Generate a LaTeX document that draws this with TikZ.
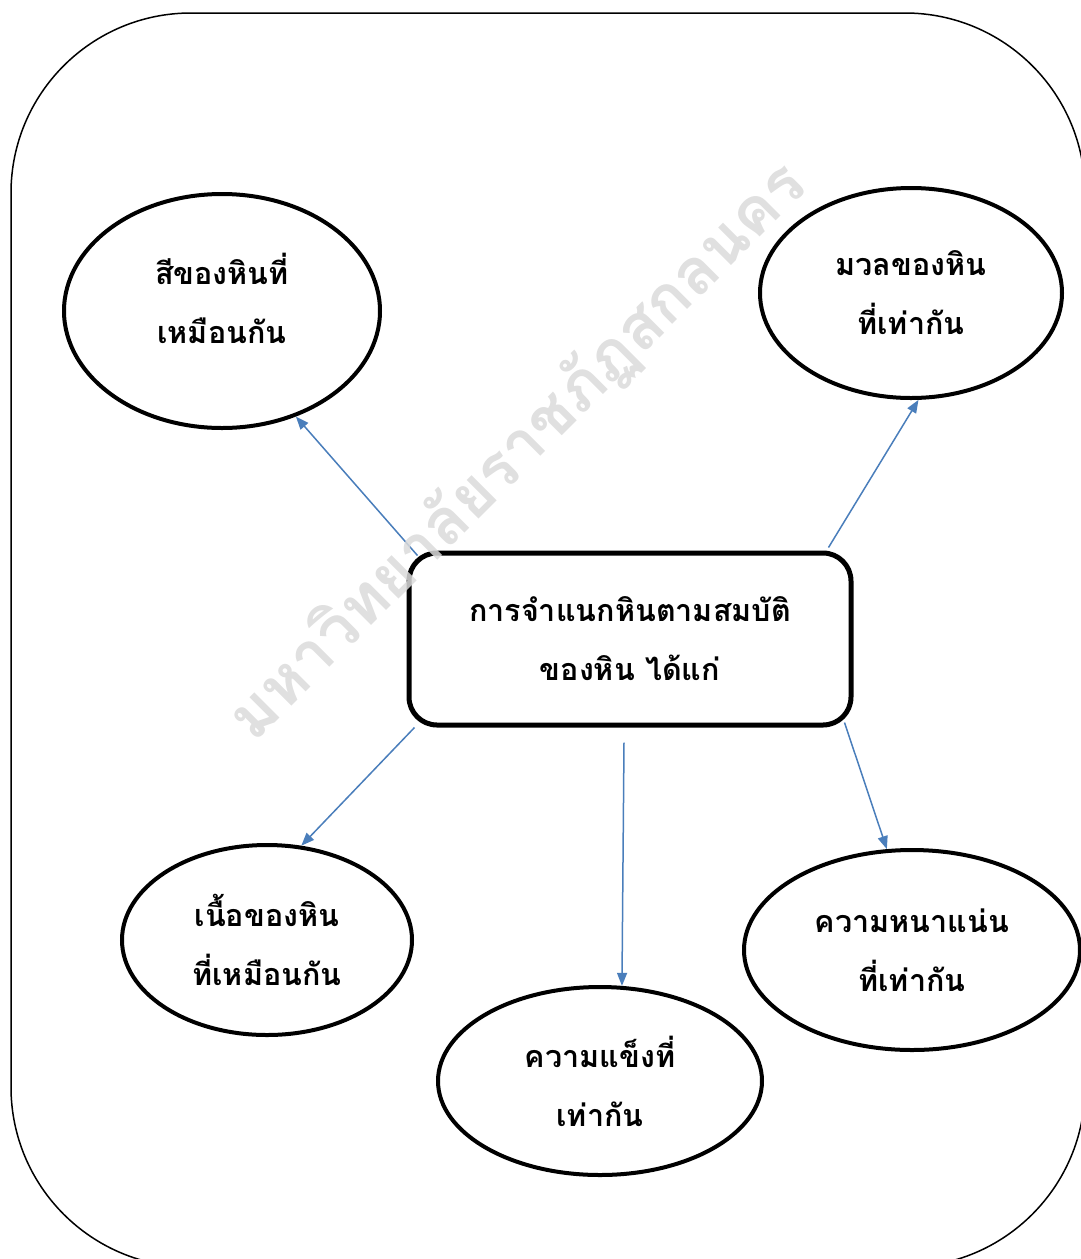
\documentclass[tikz,border=0pt]{standalone}
\usepackage{fontspec}
\newfontfamily\thaifont[Script=Thai]{Loma}
\usetikzlibrary{shapes.geometric,arrows.meta}
\definecolor{arrowblue}{RGB}{74,126,187}
\definecolor{wmgray}{RGB}{218,218,218}
\newcommand\thaitext{\thaifont\bfseries\fontsize{30.5}{59}\selectfont}
\newcommand\wmtext{\thaifont\bfseries\fontsize{64}{64}\selectfont}
\begin{document}
\begin{tikzpicture}[x=1pt,y=-1pt,
  bubble/.style={draw, line width=4pt, ellipse, inner sep=0pt, align=center, font=\thaitext},
  label text/.style={inner sep=0pt, align=center, font=\thaitext},
  mainbox/.style={draw, line width=5pt, rounded corners=28pt, inner sep=0pt, align=center, font=\thaitext},
  arr/.style={draw=arrowblue, line width=1.5pt, -{Triangle[length=13pt,width=10pt]}, arrowblue},
  frame/.style={draw, line width=1.5pt, rounded corners=180pt}]
\useasboundingbox (0,0) rectangle (1080,1259);
\draw[frame] (11,13) rectangle (1085,1267);
\node[bubble, minimum width=316pt, minimum height=234pt] (e1) at (222,311) {};
\node[label text] (t1) at ([yshift=13pt]e1.center) {สีของหินที่\\เหมือนกัน};
\node[bubble, minimum width=302pt, minimum height=210pt] (e2) at (911,293) {มวลของหิน\\ที่เท่ากัน};
\node[mainbox, minimum width=442pt, minimum height=172pt] (box) at (630,639) {การจำแนกหินตามสมบัติ\\ของหิน ได้แก่};
\node[bubble, minimum width=290pt, minimum height=190pt] (e3) at (267,940) {เนื้อของหิน\\ที่เหมือนกัน};
\node[bubble, minimum width=324pt, minimum height=188pt] (e4) at (600,1081) {ความแข็งที่\\เท่ากัน};
\node[bubble, minimum width=336pt, minimum height=200pt] (e5) at (912,950) {ความหนาแน่น\\ที่เท่ากัน};
\draw[arr] ([xshift=11pt,yshift=-5pt]box.north west) -- (e1.-55.7);
\draw[arr] ([xshift=-25pt,yshift=3pt]box.north east) -- (e2.-86.8);
\draw[arr] ([xshift=8pt]box.south west) -- (e3.70.2);
\draw[arr] ([xshift=-6pt,yshift=-15pt]box.south) -- (e4.77);
\draw[arr] ([xshift=-9pt,yshift=5pt]box.south east) -- (e5.104.9);
\node[rotate=45, text=wmgray, font=\wmtext, opacity=0.85] (wm) at (518,452) {มหาวิทยาลัยราชภัฏสกลนคร};
\end{tikzpicture}
\end{document}
